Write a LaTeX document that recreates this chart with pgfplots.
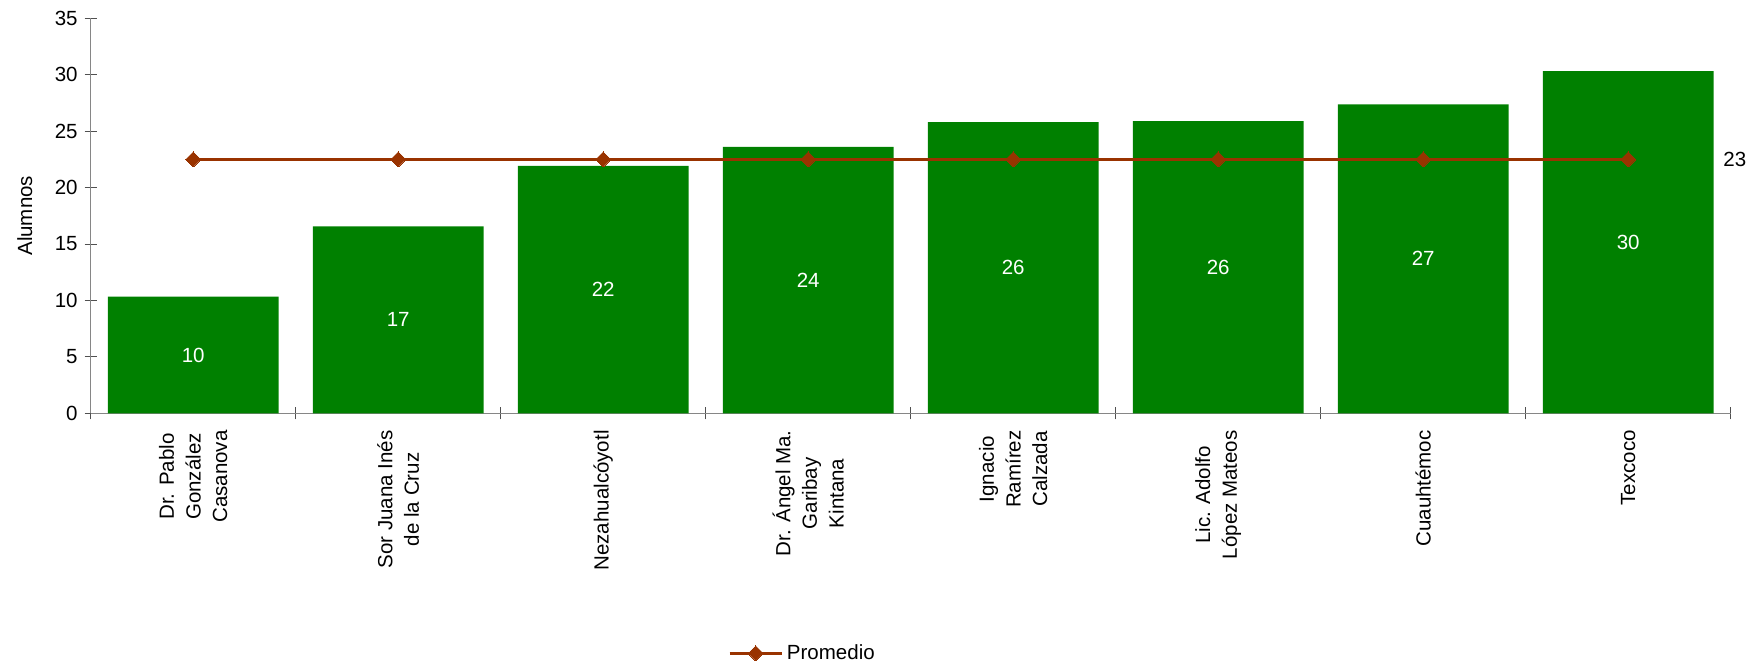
\documentclass[border=0pt]{standalone}
\usepackage{fontspec}
\setmainfont{Liberation Sans}
\usepackage{pgfplots}
\pgfplotsset{compat=1.18}
\definecolor{barg}{HTML}{008000}
\definecolor{prom}{HTML}{993300}
\definecolor{axg}{HTML}{868686}
\newcommand\f{\fontsize{10.25pt}{13.3pt}\selectfont}
\begin{document}
\begin{tikzpicture}
\begin{axis}[
  at={(0,0)}, anchor=south west,
  width=820pt, height=197.5pt, scale only axis,
  xmin=-0.5, xmax=7.5, ymin=0, ymax=35,
  clip=false,
  axis lines*=left,
  axis line style={axg, line width=0.75pt},
  ytick={0,5,...,35},
  xtick={0,...,7},
  xticklabels={{Dr. Pablo\\González\\Casanova},{Sor Juana Inés\\de la Cruz},Nezahualcóyotl,{Dr. Ángel Ma.\\Garibay\\Kintana},{Ignacio\\Ramírez\\Calzada},{Lic. Adolfo\\López Mateos},Cuauhtémoc,Texcoco},
  minor xtick={-0.5,0.5,...,7.5},
  tick align=center,
  major tick length=6pt, minor tick length=6pt,
  major x tick style={draw=none},
  tick style={axg!60!black, line width=0.5pt},
  tick label style={font=\f},
  /pgf/number format/assume math mode=true,
  xticklabel style={rotate=90, anchor=east, align=center},
  xticklabel shift=2pt,
  every axis y label/.style={at={(axis description cs:-0.0402,0.5)}, rotate=90, anchor=center, font=\f},
  ylabel={Alumnos},
  legend style={draw=none, fill=none, at={(axis description cs:0.3886,-0.6076)}, anchor=west, font=\f, inner sep=0pt},
  legend image code/.code={\draw[mark repeat=2,mark phase=2,#1] plot coordinates {(0pt,0pt) (13pt,0pt) (26pt,0pt)};},
]
\addplot[ybar, bar width=0.833, fill=barg, draw=none, forget plot,
  point meta=y,
  nodes near coords={\pgfmathprintnumber[fixed,precision=0]{\pgfplotspointmeta}},
  visualization depends on={y \as \rawy},
  every node near coord/.append style={anchor=center, white, font=\f, shift={(axis direction cs:0,-\rawy/2)}},
] coordinates {
(0,10.33) (1,16.56) (2,21.92) (3,23.6) (4,25.79) (5,25.89) (6,27.38) (7,30.32)
};
\addplot[prom, line width=1.3pt, mark=square*, mark size=2.65pt,
  mark options={rotate=45, fill=prom, draw=prom, line width=0pt}] coordinates {
(0,22.5) (1,22.5) (2,22.5) (3,22.5) (4,22.5) (5,22.5) (6,22.5) (7,22.5)
};
\addlegendentry{Promedio}
\node[anchor=west, inner sep=0pt, font=\f, xshift=47.4pt] at (axis cs:7,22.5) {23};
\end{axis}
\pgfresetboundingbox
\useasboundingbox (-45.35pt,-126.85pt) rectangle (833.15pt,206.65pt);
\end{tikzpicture}
\end{document}
